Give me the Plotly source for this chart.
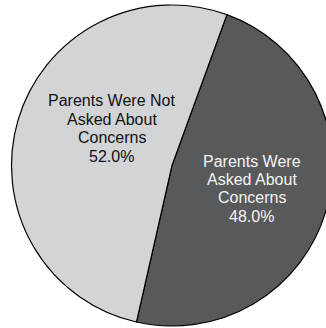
import plotly.graph_objects as go

labels = ["Parents Were<br>Asked About<br>Concerns", "Parents Were Not<br>Asked About<br>Concerns"]
values = [48.0, 52.0]
colors = ["#58595b", "#d3d4d6"]
text_colors = ["#f4f4f4", "#111111"]

W, H = 334, 328
# label block placement (pixel centre x, middle of first line y) per slice
label_pos = [(252, 161), (111.5, 101)]
line_gap = 18.4

fig = go.Figure(go.Pie(
    labels=labels,
    values=values,
    sort=False,
    direction="clockwise",
    rotation=20,
    marker=dict(colors=colors, line=dict(color="#000000", width=1.2)),
    textinfo="none",
    hoverinfo="skip",
    showlegend=False,
    domain=dict(x=[11.5 / W, 332.5 / W], y=[1 - 326 / H, 1 - 5 / H]),
))

annotations = []
for lab, val, col, (px, py) in zip(labels, values, text_colors, label_pos):
    lines = lab.split("<br>") + [f"{val:.1f}%"]
    for i, ln in enumerate(lines):
        annotations.append(dict(
            text=ln, xref="paper", yref="paper",
            x=px / W, y=1 - (py + i * line_gap) / H,
            xanchor="center", yanchor="middle", showarrow=False,
            font=dict(family="Liberation Sans, Arial, sans-serif", size=16, color=col),
        ))

fig.update_layout(
    width=W, height=H,
    margin=dict(l=0, r=0, t=0, b=0),
    paper_bgcolor="white",
    plot_bgcolor="white",
    annotations=annotations,
)
fig.write_html(
    "out.html",
    config={"displayModeBar": False},
    post_script="document.body.style.margin='0';document.body.style.overflow='hidden';",
)
